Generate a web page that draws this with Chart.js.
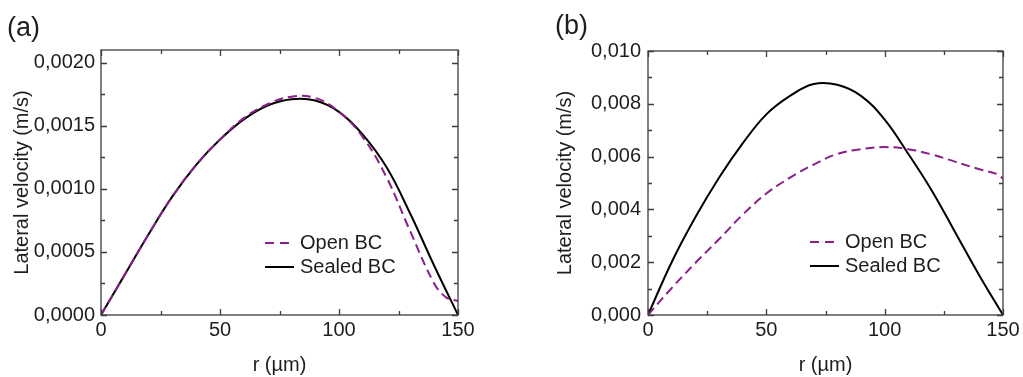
<!DOCTYPE html>
<html>
<head>
<meta charset="utf-8">
<script src="https://cdn.jsdelivr.net/npm/chart.js@4/dist/chart.umd.min.js"></script>
<style>
  html, body { margin: 0; padding: 0; background: #fff; }
  #wrap { position: relative; width: 1023px; height: 377px; overflow: hidden; }
  canvas { position: absolute; top: 0; }
  #canvasA { left: 0; }
  #canvasB { left: 511px; }
</style>
</head>
<body>
<div id="wrap">
  <canvas id="canvasA" width="511" height="377"></canvas>
  <canvas id="canvasB" width="512" height="377"></canvas>
</div>
<script>
// radial position (µm)
const rGrid = [0, 10, 20, 30, 40, 50, 60, 70, 80, 90, 100, 110, 120, 130, 140, 150];
const rOpenA = [0, 10, 20, 30, 40, 50, 60, 70, 80, 90, 100, 110, 120, 130, 140, 145, 150];
const rOpenB = [0, 10, 20, 30, 40, 50, 60, 70, 80, 90, 100, 110, 120, 130, 140, 148, 150];

// panel (a) lateral velocity (m/s)
const sealedA = [0, 0.00032, 0.00064, 0.00094, 0.00119, 0.00139, 0.00155, 0.00166, 0.00171,
  0.00170, 0.00161, 0.00143, 0.00117, 0.00080, 0.00039, 0];
const openA = [0, 0.00032, 0.00064, 0.00094, 0.00119, 0.00139, 0.00156, 0.00167, 0.00173,
  0.00172, 0.00161, 0.00141, 0.00109, 0.00066, 0.00025, 0.00014, 0.00011];

// panel (b) lateral velocity (m/s)
const sealedB = [0, 0.0020, 0.0037, 0.0052, 0.0065, 0.0076, 0.0083, 0.00875, 0.00872,
  0.0083, 0.0074, 0.0061, 0.0047, 0.0031, 0.0015, 0];
const openB = [0, 0.00102, 0.00197, 0.00287, 0.0038, 0.0046, 0.0052, 0.0057, 0.0061,
  0.00628, 0.00636, 0.00628, 0.00608, 0.0058, 0.00552, 0.00532, 0.00515];

// ticks
const xMajor = [0, 50, 100, 150];
const xMinor = [25, 75, 125];
const yMajorA = [0, 0.0005, 0.0010, 0.0015, 0.0020];
const yMinorA = [0.00025, 0.00075, 0.00125, 0.00175];
const yMajorB = [0, 0.002, 0.004, 0.006, 0.008, 0.010];
const yMinorB = [0.001, 0.003, 0.005, 0.007, 0.009];

const legendLabels = ["Open BC", "Sealed BC"];
const PURPLE = "#8a1f8c";
const INK = "#1e1e1e";
const FONT = { family: "'Liberation Sans', Arial, sans-serif", size: 20 };

function pts(xs, ys) {
  return ys.map((v, i) => ({ x: xs[i], y: v }));
}

// inward tick marks on all four sides + frame
const frameTicks = {
  id: "frameTicks",
  afterDatasetsDraw(chart, args, opts) {
    const { ctx, chartArea: a, scales: { x, y } } = chart;
    ctx.save();
    ctx.strokeStyle = "#3c3c3c";
    ctx.lineWidth = 1.3;
    ctx.strokeRect(a.left, a.top, a.right - a.left, a.bottom - a.top);
    ctx.beginPath();
    const mark = (vals, len) => {
      vals.forEach(v => {
        const px = Math.round(x.getPixelForValue(v)) + 0.5;
        ctx.moveTo(px, a.bottom); ctx.lineTo(px, a.bottom - len);
        ctx.moveTo(px, a.top); ctx.lineTo(px, a.top + len);
      });
    };
    const markY = (vals, len) => {
      vals.forEach(v => {
        const py = Math.round(y.getPixelForValue(v)) + 0.5;
        ctx.moveTo(a.left, py); ctx.lineTo(a.left + len, py);
        ctx.moveTo(a.right, py); ctx.lineTo(a.right - len, py);
      });
    };
    mark(xMajor, 6); mark(xMinor, 4);
    markY(opts.yMajor, 6); markY(opts.yMinor, 4);
    ctx.stroke();
    ctx.restore();
  }
};

// legend inside the plot, plus the panel letter
const insideLegend = {
  id: "insideLegend",
  afterDraw(chart, args, opts) {
    const ctx = chart.ctx;
    ctx.save();
    ctx.font = FONT.size + "px " + FONT.family;
    ctx.fillStyle = INK;
    ctx.textBaseline = "middle";
    ctx.lineWidth = 2;
    // dashed sample
    ctx.strokeStyle = PURPLE;
    ctx.setLineDash([9, 6]);
    ctx.beginPath();
    ctx.moveTo(opts.x, opts.y); ctx.lineTo(opts.x + 28, opts.y);
    ctx.stroke();
    // solid sample
    ctx.setLineDash([]);
    ctx.strokeStyle = "#000";
    ctx.beginPath();
    ctx.moveTo(opts.x, opts.y + opts.gap); ctx.lineTo(opts.x + 29, opts.y + opts.gap);
    ctx.stroke();
    ctx.fillText(legendLabels[0], opts.x + opts.textOff, opts.y);
    ctx.fillText(legendLabels[1], opts.x + opts.textOff, opts.y + opts.gap);
    // panel letter
    ctx.font = "27px " + FONT.family;
    ctx.fillText(opts.letter, opts.lx, opts.ly);
    ctx.restore();
  }
};

function makeChart(id, sealed, openXs, open, yMax, yMajor, yMinor, decimals, box, legend) {
  const ctx = document.getElementById(id).getContext("2d");
  return new Chart(ctx, {
    type: "line",
    data: {
      datasets: [
        {
          label: legendLabels[1],
          data: pts(rGrid, sealed),
          borderColor: "#000",
          borderWidth: 2,
          pointRadius: 0,
          tension: 0.4,
          order: 2
        },
        {
          label: legendLabels[0],
          data: pts(openXs, open),
          borderColor: PURPLE,
          borderWidth: 2,
          borderDash: [9, 5],
          pointRadius: 0,
          tension: 0.4,
          order: 1
        }
      ]
    },
    options: {
      responsive: false,
      animation: false,
      events: [],
      layout: { padding: { top: box.top, right: box.right, left: 0, bottom: 0 } },
      plugins: {
        legend: { display: false },
        tooltip: { enabled: false },
        frameTicks: { yMajor: yMajor, yMinor: yMinor },
        insideLegend: legend
      },
      scales: {
        x: {
          type: "linear",
          min: 0,
          max: 150,
          afterBuildTicks: s => { s.ticks = xMajor.map(v => ({ value: v })); },
          afterFit: s => { s.height = box.xh; },
          ticks: { font: FONT, color: INK, padding: 3, maxRotation: 0, autoSkip: false },
          grid: { display: false, drawTicks: false },
          border: { display: false },
          title: { display: true, text: "r (µm)", font: FONT, color: INK, padding: { top: 0, bottom: 0 } }
        },
        y: {
          type: "linear",
          min: 0,
          max: yMax,
          afterBuildTicks: s => { s.ticks = yMajor.map(v => ({ value: v })); },
          afterFit: s => { s.width = box.yw; },
          ticks: {
            font: FONT, color: INK, padding: box.ypad, autoSkip: false,
            callback: v => v.toFixed(decimals).replace(".", ",")
          },
          grid: { display: false, drawTicks: false },
          border: { display: false },
          title: {
            display: true, text: "Lateral velocity (m/s)", font: FONT, color: INK,
            padding: { top: box.titlePad, bottom: 0 }
          }
        }
      }
    },
    plugins: [frameTicks, insideLegend]
  });
}

let charts = [];
charts.push(makeChart("canvasA", sealedA, rOpenA, openA, 0.0021, yMajorA, yMinorA, 4,
  { top: 50, right: 53, xh: 62, yw: 101, ypad: 6, titlePad: 10 },
  { x: 265, y: 243, gap: 24, textOff: 35, letter: "(a)", lx: 7, ly: 29 }));
charts.push(makeChart("canvasB", sealedB, rOpenB, openB, 0.010, yMajorB, yMinorB, 3,
  { top: 51, right: 20, xh: 62, yw: 137, ypad: 7, titlePad: 42 },
  { x: 299, y: 242, gap: 24, textOff: 35, letter: "(b)", lx: 44, ly: 27 }));
</script>
</body>
</html>
